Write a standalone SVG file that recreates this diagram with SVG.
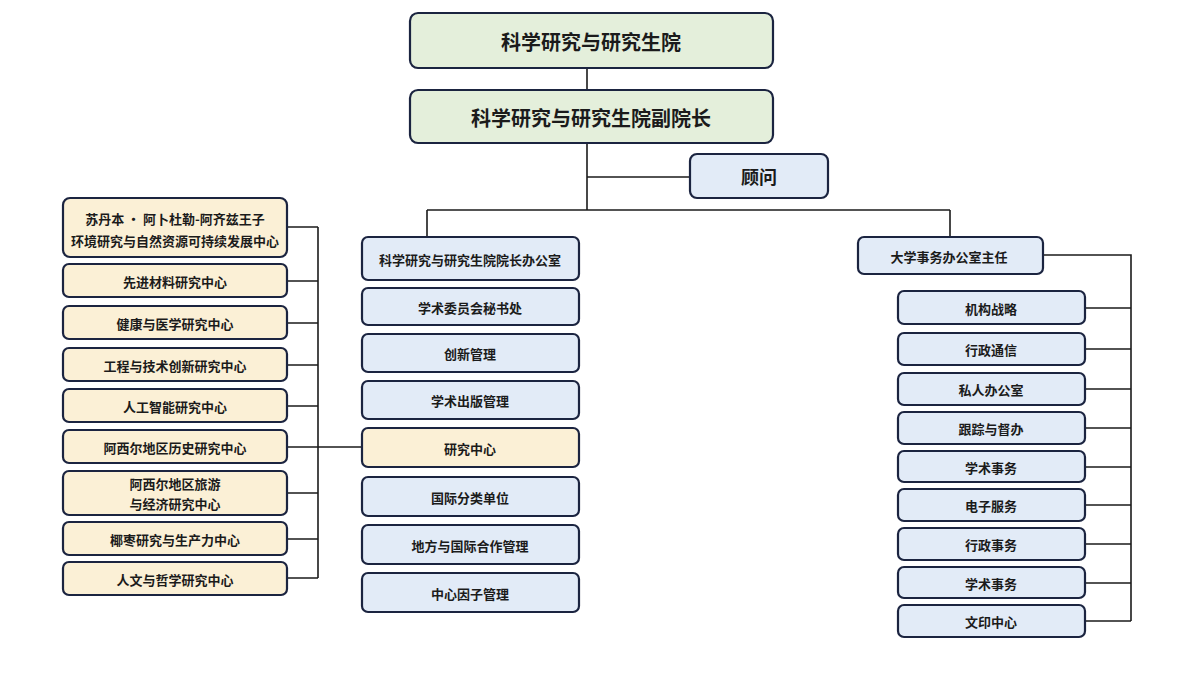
<svg xmlns="http://www.w3.org/2000/svg" width="1200" height="686" viewBox="0 0 1200 686">
<style>
rect{stroke:#1b2440;stroke-width:2.2}
.g{fill:#e4efdb}.b{fill:#e2ebf7}.y{fill:#fbf0d6}
text{font-family:"Noto Sans CJK SC","Noto Sans",sans-serif;font-weight:bold;fill:#1b1b1b;text-anchor:middle;dominant-baseline:central;font-size:13px}
.big{font-size:20px}.mid{font-size:18px}
#conn path{fill:none;stroke:#1b1b1b;stroke-width:1.6}
</style>
<rect width="1200" height="686" fill="#fff" style="stroke:none"/>
<g id="conn">
<path d="M587 68V210M587 177H690M427 210H950M427 210V237M950 210V237"/>
<path d="M287 227H318M287 281H318M287 323H318M287 365H318M287 406H318M287 447H362M287 493H318M287 539H318M287 578H318M318 227V578"/>
<path d="M1043 255H1131V621M1085 308H1131M1085 349H1131M1085 389H1131M1085 428H1131M1085 467H1131M1085 505H1131M1085 544H1131M1085 583H1131M1085 621H1131"/>
</g>
<g id="n1"><rect class="g" x="410" y="13" width="363" height="55" rx="8"/><text class="big" x="591" y="41">科学研究与研究生院</text></g>
<g id="n2"><rect class="g" x="410" y="90" width="363" height="53" rx="8"/><text class="big" x="591" y="117">科学研究与研究生院副院长</text></g>
<g id="n3"><rect class="b" x="690" y="154" width="138" height="44" rx="7"/><text class="mid" x="759" y="176">顾问</text></g>
<g id="m1"><rect class="b" x="362" y="237" width="217" height="43" rx="6"/><text x="470" y="259">科学研究与研究生院院长办公室</text></g>
<g id="m2"><rect class="b" x="362" y="288" width="217" height="37" rx="6"/><text x="470" y="307">学术委员会秘书处</text></g>
<g id="m3"><rect class="b" x="362" y="334" width="217" height="38" rx="6"/><text x="470" y="353">创新管理</text></g>
<g id="m4"><rect class="b" x="362" y="381" width="217" height="38" rx="6"/><text x="470" y="400">学术出版管理</text></g>
<g id="m5"><rect class="y" x="362" y="428" width="217" height="39" rx="6"/><text x="470" y="448">研究中心</text></g>
<g id="m6"><rect class="b" x="362" y="477" width="217" height="39" rx="6"/><text x="470" y="497">国际分类单位</text></g>
<g id="m7"><rect class="b" x="362" y="525" width="217" height="39" rx="6"/><text x="470" y="545">地方与国际合作管理</text></g>
<g id="m8"><rect class="b" x="362" y="573" width="217" height="39" rx="6"/><text x="470" y="593">中心因子管理</text></g>
<g id="l1"><rect class="y" x="63" y="198" width="224" height="59" rx="7"/><text x="175" y="218">苏丹本 · 阿卜杜勒-阿齐兹王子</text><text x="175" y="240">环境研究与自然资源可持续发展中心</text></g>
<g id="l2"><rect class="y" x="63" y="264" width="224" height="33" rx="6"/><text x="175" y="281">先进材料研究中心</text></g>
<g id="l3"><rect class="y" x="63" y="306" width="224" height="33" rx="6"/><text x="175" y="323">健康与医学研究中心</text></g>
<g id="l4"><rect class="y" x="63" y="348" width="224" height="33" rx="6"/><text x="175" y="365">工程与技术创新研究中心</text></g>
<g id="l5"><rect class="y" x="63" y="389" width="224" height="33" rx="6"/><text x="175" y="406">人工智能研究中心</text></g>
<g id="l6"><rect class="y" x="63" y="430" width="224" height="33" rx="6"/><text x="175" y="447">阿西尔地区历史研究中心</text></g>
<g id="l7"><rect class="y" x="63" y="471" width="224" height="44" rx="6"/><text x="175" y="483">阿西尔地区旅游</text><text x="175" y="503">与经济研究中心</text></g>
<g id="l8"><rect class="y" x="63" y="522" width="224" height="33" rx="6"/><text x="175" y="539">椰枣研究与生产力中心</text></g>
<g id="l9"><rect class="y" x="63" y="562" width="224" height="33" rx="6"/><text x="175" y="579">人文与哲学研究中心</text></g>
<g id="r0"><rect class="b" x="858" y="237" width="185" height="37" rx="6"/><text x="949" y="256">大学事务办公室主任</text></g>
<g id="r1"><rect class="b" x="898" y="291" width="187" height="33" rx="6"/><text x="991" y="308">机构战略</text></g>
<g id="r2"><rect class="b" x="898" y="333" width="187" height="32" rx="6"/><text x="991" y="349">行政通信</text></g>
<g id="r3"><rect class="b" x="898" y="373" width="187" height="32" rx="6"/><text x="991" y="389">私人办公室</text></g>
<g id="r4"><rect class="b" x="898" y="412" width="187" height="32" rx="6"/><text x="991" y="428">跟踪与督办</text></g>
<g id="r5"><rect class="b" x="898" y="451" width="187" height="31" rx="6"/><text x="991" y="467">学术事务</text></g>
<g id="r6"><rect class="b" x="898" y="489" width="187" height="32" rx="6"/><text x="991" y="505">电子服务</text></g>
<g id="r7"><rect class="b" x="898" y="528" width="187" height="32" rx="6"/><text x="991" y="544">行政事务</text></g>
<g id="r8"><rect class="b" x="898" y="567" width="187" height="31" rx="6"/><text x="991" y="583">学术事务</text></g>
<g id="r9"><rect class="b" x="898" y="605" width="187" height="32" rx="6"/><text x="991" y="621">文印中心</text></g>
</svg>
